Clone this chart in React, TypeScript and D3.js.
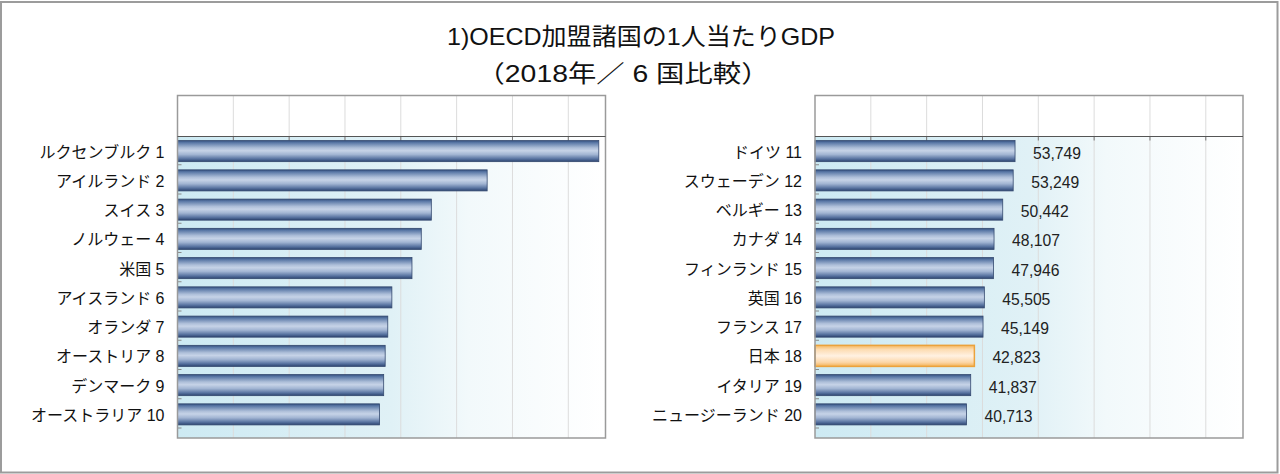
import React from "react";
import * as d3 from "d3";

const leftCountries = ["ルクセンブルク", "アイルランド", "スイス", "ノルウェー", "米国", "アイスランド", "オランダ", "オーストリア", "デンマーク", "オーストラリア"];
const leftRanks = [1, 2, 3, 4, 5, 6, 7, 8, 9, 10];
const leftValues = [113200, 83200, 68200, 65500, 63000, 57600, 56500, 55800, 55400, 54300];

const rightCountries = ["ドイツ", "スウェーデン", "ベルギー", "カナダ", "フィンランド", "英国", "フランス", "日本", "イタリア", "ニュージーランド"];
const rightRanks = [11, 12, 13, 14, 15, 16, 17, 18, 19, 20];
const rightValues = [53749, 53249, 50442, 48107, 47946, 45505, 45149, 42823, 41837, 40713];

const highlightCountry = "日本";
const gridTicks = [15000, 30000, 45000, 60000, 75000, 90000, 105000];
const xMax = 115000;

const titleText = "1)OECD加盟諸国の1人当たりGDP";
const subtitleText = "（2018年／ 6  国比較）";

const FONT = "'Liberation Sans', Arial, 'Noto Sans CJK JP', sans-serif";

type PanelProps = {
  left: number;
  countries: string[];
  ranks: number[];
  values: number[];
  showValues: boolean;
  id: string;
};

const PANEL_W = 428;
const TOP = 95.5;
const AXIS_Y = 136.5;
const BOTTOM = 438;
const BAND_END = 429;

function Panel({ left, countries, ranks, values, showValues, id }: PanelProps) {
  const x = d3.scaleLinear().domain([0, xMax]).range([left, left + PANEL_W]);
  const y = d3
    .scaleBand<string>()
    .domain(countries)
    .range([AXIS_Y, BAND_END])
    .paddingInner(0.28)
    .paddingOuter(0.14);
  const step = y.step();
  const fmt = d3.format(",");
  return (
    <g>
      <defs>
        <linearGradient id={`bg-${id}`} x1="0" x2="1" y1="0" y2="0">
          <stop offset="0" stopColor="#cdeaf3" />
          <stop offset="0.5" stopColor="#e0f1f6" />
          <stop offset="0.68" stopColor="#f2f9fb" />
          <stop offset="1" stopColor="#ffffff" />
        </linearGradient>
      </defs>
      <rect x={left} y={TOP} width={PANEL_W} height={BOTTOM - TOP} fill="#ffffff" />
      <rect x={left} y={AXIS_Y} width={PANEL_W} height={BOTTOM - AXIS_Y} fill={`url(#bg-${id})`} />
      {gridTicks.map((t) => (
        <line key={t} x1={x(t)} x2={x(t)} y1={TOP} y2={BOTTOM} stroke="#dcdcdc" strokeWidth={1} />
      ))}
      {gridTicks.map((t) => (
        <line key={"tk" + t} x1={x(t)} x2={x(t)} y1={AXIS_Y} y2={AXIS_Y + 4} stroke="#777" strokeWidth={1} />
      ))}
      {countries.map((c, i) => (
        <line
          key={"ct" + c}
          x1={left}
          x2={left + 4}
          y1={AXIS_Y + step * (i + 1) - 1}
          y2={AXIS_Y + step * (i + 1) - 1}
          stroke="#8a8a8a"
          strokeWidth={1}
        />
      ))}
      {countries.map((c, i) => {
        const hi = c === highlightCountry;
        return (
          <rect
            key={"b" + c}
            x={x(0)}
            y={y(c)}
            width={x(values[i]) - x(0)}
            height={y.bandwidth()}
            fill={hi ? "url(#barHi)" : "url(#barBlue)"}
            stroke={hi ? "#eba23c" : "#34496f"}
            strokeWidth={hi ? 1.5 : 0.8}
          />
        );
      })}
      <rect x={left} y={TOP} width={PANEL_W} height={BOTTOM - TOP} fill="none" stroke="#9a9a9a" strokeWidth={1.5} />
      <line x1={left} x2={left + PANEL_W} y1={AXIS_Y} y2={AXIS_Y} stroke="#555" strokeWidth={1.2} />
      {countries.map((c, i) => (
        <text
          key={"l" + c}
          x={left - 13}
          y={(y(c) as number) + y.bandwidth() / 2 + 1}
          textAnchor="end"
          dominantBaseline="central"
          fontSize={16}
          fontFamily={FONT}
          fill="#111"
        >
          {c} {ranks[i]}
        </text>
      ))}
      {showValues &&
        countries.map((c, i) => (
          <text
            key={"v" + c}
            x={x(values[i]) + 18}
            y={(y(c) as number) + y.bandwidth() / 2 + 2}
            dominantBaseline="central"
            fontSize={16}
            fontFamily={FONT}
            textLength={48}
            lengthAdjust="spacingAndGlyphs"
            fill="#222"
          >
            {fmt(values[i])}
          </text>
        ))}
    </g>
  );
}

export default function App() {
  return (
    <svg
      width={1280}
      height={474}
      style={{ position: "absolute", left: 0, top: 0, background: "#fff" }}
    >
      <defs>
        <linearGradient id="barBlue" x1="0" x2="0" y1="0" y2="1">
          <stop offset="0" stopColor="#34507e" />
          <stop offset="0.1" stopColor="#5a78a6" />
          <stop offset="0.35" stopColor="#aebfd9" />
          <stop offset="0.48" stopColor="#c6d3e7" />
          <stop offset="0.66" stopColor="#a2b5d3" />
          <stop offset="0.86" stopColor="#5a75a2" />
          <stop offset="1" stopColor="#2c4470" />
        </linearGradient>
        <linearGradient id="barHi" x1="0" x2="0" y1="0" y2="1">
          <stop offset="0" stopColor="#f6b85e" />
          <stop offset="0.2" stopColor="#fcdcb2" />
          <stop offset="0.5" stopColor="#fff1e2" />
          <stop offset="0.8" stopColor="#fcd7a9" />
          <stop offset="1" stopColor="#f4b255" />
        </linearGradient>
      </defs>
      <rect x={1} y={2} width={1276.5} height={470.5} fill="#fff" stroke="#9c9c9c" strokeWidth={2} />
      <text
        x={641}
        y={36}
        textAnchor="middle"
        dominantBaseline="central"
        fontSize={24}
        fontFamily={FONT}
        textLength={388}
        lengthAdjust="spacingAndGlyphs"
        fill="#111"
      >
        {titleText}
      </text>
      <text
        x={623}
        y={73}
        textAnchor="middle"
        dominantBaseline="central"
        fontSize={24}
        fontFamily={FONT}
        textLength={293}
        lengthAdjust="spacingAndGlyphs"
        fill="#111"
      >
        {subtitleText}
      </text>
      <Panel id="L" left={177.5} countries={leftCountries} ranks={leftRanks} values={leftValues} showValues={false} />
      <Panel id="R" left={815} countries={rightCountries} ranks={rightRanks} values={rightValues} showValues={true} />
    </svg>
  );
}
